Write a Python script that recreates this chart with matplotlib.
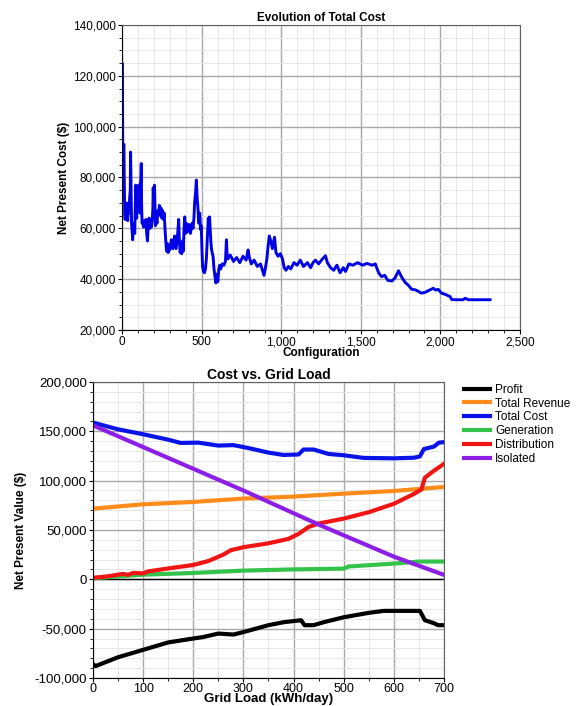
import matplotlib
matplotlib.use("Agg")
import matplotlib.pyplot as plt
from matplotlib.ticker import MultipleLocator, FuncFormatter

plt.rcParams['font.family'] = ['Liberation Sans', 'DejaVu Sans']

# --- top chart: evolution of total cost ---
config = [0, 1, 3, 5, 7, 9, 12, 14, 17, 20,
          24, 28, 32, 36, 40, 44, 48, 52, 54, 56,
          60, 64, 67, 70, 75, 80, 84, 86, 88, 92,
          96, 100, 104, 108, 112, 116, 119, 121, 123, 126,
          130, 135, 140, 145, 150, 155, 160, 165, 170, 175,
          180, 185, 190, 194, 196, 200, 204, 206, 210, 215,
          220, 225, 230, 235, 240, 245, 250, 255, 260, 265,
          270, 275, 280, 285, 290, 295, 300, 310, 320, 330,
          340, 350, 356, 360, 365, 370, 375, 380, 385, 390,
          394, 398, 404, 410, 420, 430, 440, 446, 452, 456,
          462, 467, 472, 477, 482, 488, 494, 498, 502, 506,
          512, 518, 524, 530, 536, 542, 546, 550, 554, 558,
          562, 566, 572, 578, 584, 590, 596, 602, 608, 614,
          620, 630, 640, 650, 656, 660, 666, 680, 700, 720,
          740, 760, 780, 792, 800, 812, 830, 850, 870, 885,
          892, 900, 910, 917, 925, 935, 945, 958, 967, 980,
          995, 1008, 1019, 1030, 1045, 1060, 1080, 1100, 1120, 1140,
          1165, 1185, 1200, 1215, 1235, 1257, 1278, 1290, 1310, 1330,
          1350, 1370, 1390, 1404, 1425, 1450, 1480, 1510, 1540, 1570,
          1591, 1612, 1630, 1650, 1670, 1696, 1715, 1737, 1755, 1779,
          1800, 1820, 1842, 1862, 1880, 1904, 1925, 1955, 1970, 1986,
          2007, 2030, 2060, 2071, 2100, 2144, 2155, 2176, 2220, 2312]
npc = [124000, 125000, 122000, 86000, 84000, 92000, 93000, 80000, 66000, 63500,
       70000, 64000, 68000, 63000, 70000, 66000, 72000, 75000, 90000, 80000,
       62000, 58000, 55500, 60000, 62000, 58000, 70000, 77000, 75000, 64000,
       76500, 74000, 77000, 76000, 66000, 77000, 80000, 85500, 70000, 62000,
       63000, 60500, 62000, 61000, 63500, 58000, 55000, 61000, 64000, 60000,
       62500, 60500, 63000, 68000, 76000, 70000, 77000, 72000, 61000, 64000,
       62000, 67000, 65000, 69000, 66000, 68000, 64000, 67000, 63500, 66000,
       60000, 55000, 51000, 54000, 50500, 53000, 51500, 55500, 52000, 57000,
       52000, 58000, 63500, 56000, 50500, 52000, 50000, 55000, 51000, 60000,
       64500, 58000, 62000, 58500, 61500, 58000, 62000, 60000, 64000, 70000,
       74000, 79000, 72000, 68000, 62000, 66000, 59500, 61000, 52000, 45000,
       43000, 42500, 44000, 48000, 56000, 64000, 60000, 64500, 60000, 55000,
       52000, 50500, 49000, 44000, 41000, 38500, 42000, 39000, 44000, 45500,
       44000, 46000, 45500, 47000, 55500, 50000, 48000, 49500, 47000, 48500,
       46500, 49000, 47500, 51500, 48500, 46000, 47500, 45000, 46000, 43000,
       41500, 44000, 48000, 52500, 57000, 55000, 52000, 56500, 50500, 49000,
       50000, 48000, 44500, 43500, 45000, 44000, 46500, 45500, 47500, 45000,
       46500, 44500, 46500, 47500, 46000, 47800, 49200, 46500, 44500, 43500,
       45500, 42500, 44500, 43000, 46000, 45500, 46500, 45500, 46200, 45500,
       46000, 42500, 41000, 41500, 39500, 39300, 40500, 43300, 41000, 38700,
       37500, 36000, 35800, 35200, 34500, 34800, 35500, 36400, 35700, 36000,
       34500, 34000, 33200, 32000, 31900, 31900, 32500, 31900, 31900, 31900]

# --- bottom chart: cost vs grid load ---
profit_x = [0, 5, 50, 100, 150, 200, 220, 250, 280, 300, 350, 380, 415, 422,
            440, 460, 500, 550, 580, 652, 662, 680, 688, 700]
profit_y = [-86000, -88000, -79000, -71500, -64000, -60000, -58500, -55000,
            -56000, -53500, -46500, -43500, -41500, -46500, -46500, -43500,
            -38500, -34000, -32000, -32000, -41500, -44500, -46500, -46500]
revenue_x = [0, 100, 200, 300, 400, 500, 600, 700]
revenue_y = [71600, 76000, 78400, 81800, 83800, 86800, 89500, 93600]
cost_x = [0, 50, 100, 150, 175, 210, 250, 280, 310, 350, 380, 410, 420, 440,
          470, 500, 540, 600, 640, 652, 660, 680, 690, 700]
cost_y = [158800, 152000, 147000, 141500, 138200, 138500, 135500, 136000,
          133000, 128400, 126000, 126500, 131500, 131500, 127000, 125700,
          123000, 122600, 123200, 124500, 132000, 134500, 138500, 139000]
gen_x = [0, 100, 200, 300, 400, 500, 510, 600, 650, 700]
gen_y = [1000, 4700, 6400, 8800, 10000, 10800, 13000, 15900, 18000, 18000]
dist_x = [0, 30, 60, 70, 80, 100, 110, 150, 200, 230, 260, 275, 300, 350,
          390, 410, 430, 450, 500, 550, 600, 640, 655, 662, 680, 700]
dist_y = [1500, 3000, 5500, 4500, 6500, 6000, 8000, 11000, 14500, 18500,
          25000, 29500, 32500, 36500, 41000, 46000, 53000, 56500, 61500,
          68000, 76500, 86500, 91000, 103000, 110000, 117000]
iso_x = [0, 100, 200, 300, 400, 450, 500, 600, 700]
iso_y = [156000, 134000, 112000, 90000, 67000, 55500, 44600, 23000, 4500]

comma = FuncFormatter(lambda v, p: f"{int(v):,}")


def style_axes(ax, fs):
    ax.set_facecolor("white")
    ax.grid(which="major", color="#a8a8a8", linewidth=1.0)
    ax.grid(which="minor", color="#e6e6e6", linewidth=0.7)
    ax.set_axisbelow(True)
    for s in ["top", "right"]:
        ax.spines[s].set_color("#606060")
    for s in ["left", "bottom"]:
        ax.spines[s].set_color("black")
    ax.tick_params(labelsize=fs, length=3, width=0.8, pad=1.5)
    ax.tick_params(which="minor", length=2, width=0.6)
    ax.yaxis.set_major_formatter(comma)
    ax.xaxis.set_major_formatter(comma)


fig = plt.figure(figsize=(5.84, 7.06), dpi=100)

ax1 = fig.add_axes([0.2089, 0.5326, 0.6815, 0.432])
ax1.plot(config, npc, color="#0000e6", linewidth=2.1)
ax1.set_xlim(0, 2500)
ax1.set_ylim(20000, 140000)
ax1.xaxis.set_major_locator(MultipleLocator(500))
ax1.xaxis.set_minor_locator(MultipleLocator(100))
ax1.yaxis.set_major_locator(MultipleLocator(20000))
ax1.yaxis.set_minor_locator(MultipleLocator(5000))
style_axes(ax1, 8.5)
ax1.set_title("Evolution of Total Cost", fontsize=8.5, fontweight="bold", pad=3)
ax1.set_xlabel("Configuration", fontsize=8.5, fontweight="bold", labelpad=-1)
ax1.set_ylabel("Net Present Cost ($)", fontsize=8.5, fontweight="bold", labelpad=2)

ax2 = fig.add_axes([0.1592, 0.0397, 0.601, 0.4193])
ax2.axhline(0, color="black", linewidth=1.0, zorder=1.5)
lw = 3.0
ax2.plot(profit_x, profit_y, color="black", linewidth=lw, label="Profit")
ax2.plot(revenue_x, revenue_y, color="#ff8c1a", linewidth=lw, label="Total Revenue")
ax2.plot(cost_x, cost_y, color="#0a14e6", linewidth=lw, label="Total Cost")
ax2.plot(gen_x, gen_y, color="#33c24a", linewidth=lw, label="Generation")
ax2.plot(dist_x, dist_y, color="#f01414", linewidth=lw, label="Distribution")
ax2.plot(iso_x, iso_y, color="#8c1ee6", linewidth=lw, label="Isolated")
ax2.set_xlim(0, 700)
ax2.set_ylim(-100000, 200000)
ax2.xaxis.set_major_locator(MultipleLocator(100))
ax2.xaxis.set_minor_locator(MultipleLocator(50))
ax2.yaxis.set_major_locator(MultipleLocator(50000))
ax2.yaxis.set_minor_locator(MultipleLocator(10000))
style_axes(ax2, 9.5)
ax2.tick_params(axis="x", labelsize=9, pad=0.5)
ax2.set_title("Cost vs. Grid Load", fontsize=10, fontweight="bold", pad=1)
ax2.set_xlabel("Grid Load (kWh/day)", fontsize=9.5, fontweight="bold", labelpad=-1)
ax2.set_ylabel("Net Present Value ($)", fontsize=8.5, fontweight="bold", labelpad=5)

fig.legend(loc="upper left", bbox_to_anchor=(0.787, 0.463), fontsize=8.5,
           frameon=False, handlelength=2.2, handletextpad=0.4,
           labelspacing=0.15, borderaxespad=0)

fig.savefig("out.png", dpi=100)
